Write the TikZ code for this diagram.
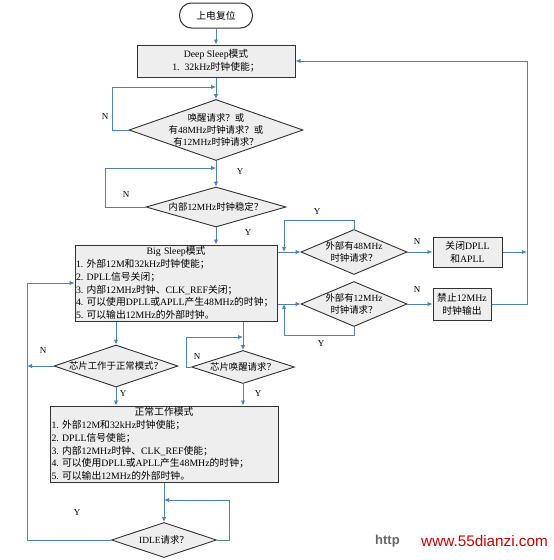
\documentclass[tikz,border=0pt]{standalone}
\usepackage{fontspec}
\setmainfont{Liberation Serif}
\newfontfamily\zhfont{Noto Sans CJK SC}
\newfontfamily\wmfont{Liberation Sans}
\newcommand{\zh}[1]{{\zhfont #1}}
\usetikzlibrary{shapes.geometric,arrows.meta}
\definecolor{lnblue}{RGB}{79,129,189}
\definecolor{boxgray}{RGB}{238,238,238}
\definecolor{edgegray}{RGB}{50,50,50}
\tikzset{
	box/.style={draw=edgegray,line width=1pt,fill=boxgray,inner sep=0pt,font=\fontsize{9.8}{12.7}\selectfont},
	dia/.style={diamond,draw=edgegray,line width=0.9pt,fill=boxgray,inner sep=0pt},
	txt/.style={align=center,inner sep=0pt,font=\fontsize{9.4}{12.3}\selectfont},
	arr/.style={draw=lnblue,line width=0.9pt,-{Latex[length=5pt,width=4.5pt]}},
	yn/.style={inner sep=0pt,font=\fontsize{9}{9}\selectfont}
}
\begin{document}
\begin{tikzpicture}[x=1pt,y=-1pt]
	\useasboundingbox[fill=white] (0,0) rectangle (554,560);

	% boxes and decisions
	\node[box,fill=white,rounded corners=12pt,minimum width=73,minimum height=25] (start) at (216,15.5) {\zh{上电复位}};
	\node[box,minimum width=158,minimum height=32,align=center] (deep) at (216,61) {Deep Sleep\zh{模式}\\1.\ \ 32kHz\zh{时钟使能；}};
	\node[dia,minimum width=174,minimum height=61,label={[txt]center:\zh{唤醒请求？或}\\\zh{有}48MHz\zh{时钟请求？或}\\\zh{有}12MHz\zh{时钟请求？}}] (d1) at (216,130) {};
	\node[dia,minimum width=140,minimum height=40,label={[txt]center:\zh{内部}12MHz\zh{时钟稳定？}}] (d2) at (216,207) {};
	\node[box,minimum width=202,minimum height=76,text width=200,align=left] (big) at (176,283) {\hfill Big Sleep\zh{模式}\hfill\mbox{}\\1.\ \zh{外部}12M\zh{和}32kHz\zh{时钟使能；}\\2.\ DPLL\zh{信号关闭；}\\3.\ \zh{内部}12MHz\zh{时钟、}CLK\_REF\zh{关闭；}\\4.\ \zh{可以使用}DPLL\zh{或}APLL\zh{产生}48MHz\zh{的时钟；}\\5.\ \zh{可以输出}12MHz\zh{的外部时钟。}};
	\node[dia,minimum width=106,minimum height=45,label={[txt]center:\zh{外部有}48MHz\\\zh{时钟请求？}}] (d3) at (354,252) {};
	\node[box,minimum width=69,minimum height=30,align=center] (dpll) at (467.5,252) {\zh{关闭}DPLL\\\zh{和}APLL};
	\node[dia,minimum width=106,minimum height=45,label={[txt]center:\zh{外部有}12MHz\\\zh{时钟请求？}}] (d4) at (354,304) {};
	\node[box,minimum width=58,minimum height=32,align=center] (ban) at (462,304) {\zh{禁止}12MHz\\\zh{时钟输出}};
	\node[dia,minimum width=124,minimum height=42,label={[txt]center:\zh{芯片工作于正常模式？}}] (d5) at (116,366) {};
	\node[dia,minimum width=103,minimum height=33,label={[txt]center:\zh{芯片唤醒请求？}}] (d6) at (243,367) {};
	\node[box,minimum width=228,minimum height=76,text width=225,align=left] (normal) at (164,444) {\hfill\zh{正常工作模式}\hfill\mbox{}\\1.\ \zh{外部}12M\zh{和}32kHz\zh{时钟使能；}\\2.\ DPLL\zh{信号使能；}\\3.\ \zh{内部}12MHz\zh{时钟、}CLK\_REF\zh{使能；}\\4.\ \zh{可以使用}DPLL\zh{或}APLL\zh{产生}48MHz\zh{的时钟；}\\5.\ \zh{可以输出}12MHz\zh{的外部时钟。}};
	\node[dia,minimum width=105,minimum height=35,label={[txt]center:IDLE\zh{请求？}}] (idle) at (164,540) {};

	% joints on the lines
	\coordinate (j1) at (216,87);
	\coordinate (j2) at (216,168);
	\coordinate (j3) at (284,252);
	\coordinate (j4) at (284,304);
	\coordinate (j5) at (527,252);
	\coordinate (j6) at (527,61);
	\coordinate (j7) at (243,337);
	\coordinate (j8) at (27,366);
	\coordinate (j9) at (164,500);
	\coordinate (j10) at (27,283);

	% connectors
	\draw[arr] (start) -- (deep);
	\draw[arr] (deep) -- (d1);
	\draw[arr] (d1.west) -- ++(-16,0) |- (j1);
	\draw[arr] (d1) -- (d2);
	\draw[arr] (d2.west) -- ++(-40,0) |- (j2);
	\draw[arr] (d2.south) -- (d2.south |- big.north);
	\draw[arr] (big.east |- d3.west) -- (d3.west);
	\draw[arr] (d3.north) -- ++(0,-9) -| (j3);
	\draw[arr] (d3.east) -- (dpll.west);
	\draw[arr] (dpll.east) -- (j5);
	\draw[arr] (big.east |- d4.west) -- (d4.west);
	\draw[arr] (d4.south) -- ++(0,8) -| (j4);
	\draw[arr] (d4.east) -- (ban.west);
	\draw[arr] (ban.east) -| (j6) -- (deep.east);
	\draw[arr] (d5.north |- big.south) -- (d5.north);
	\draw[arr] (d6.north |- big.south) -- (d6.north);
	\draw[arr] (d6.west) -- ++(-5,0) |- (j7);
	\draw[arr] (d5.west) -- (j8);
	\draw[arr] (d5.south) -- (d5.south |- normal.north);
	\draw[arr] (d6.south) -- (d6.south |- normal.north);
	\draw[arr] (normal) -- (idle);
	\draw[arr] (idle.east) -- ++(12,0) |- (j9);
	\draw[arr] (idle.west) -| (j10) -- (big.west);

	% Y / N marks
	\node[yn] (n1) at (105,117) {N};
	\node[yn] (y1) at (240,172) {Y};
	\node[yn] (n2) at (126,195) {N};
	\node[yn] (y2) at (248,233) {Y};
	\node[yn] (y3) at (317,212) {Y};
	\node[yn] (n3) at (417,242) {N};
	\node[yn] (n4) at (417,290) {N};
	\node[yn] (y4) at (321,344) {Y};
	\node[yn] (n5) at (43,351) {N};
	\node[yn] (y5) at (123,394) {Y};
	\node[yn] (n6) at (197,357) {N};
	\node[yn] (y6) at (258,394) {Y};
	\node[yn] (y7) at (77,513) {Y};

	% watermark
	\node[inner sep=0pt,anchor=west,text=black!60,font=\wmfont\bfseries\fontsize{13}{13}\selectfont] (wm1) at (375,541) {http};
	\node[inner sep=0pt,anchor=west,text=red!80!black,font=\wmfont\fontsize{15.3}{15.3}\selectfont] (wm2) at (421,541) {www.55dianzi.com};

\end{tikzpicture}
\end{document}
